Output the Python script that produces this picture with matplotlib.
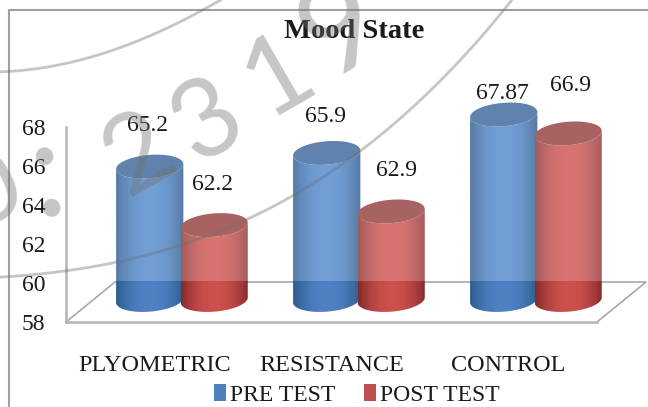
import numpy as np
import matplotlib
matplotlib.use('Agg')
import matplotlib.pyplot as plt
from matplotlib.patches import Patch, PathPatch, Polygon
from matplotlib.path import Path
from matplotlib.lines import Line2D

categories = ['PLYOMETRIC', 'RESISTANCE', 'CONTROL']
pre_test = [65.2, 65.9, 67.87]
post_test = [62.2, 62.9, 66.9]
series_names = ['PRE TEST', 'POST TEST']
yticks = [58, 60, 62, 64, 66, 68]

W, H = 648, 407
plt.rcParams['font.family'] = ['Liberation Serif', 'DejaVu Serif']

fig = plt.figure(figsize=(W / 100, H / 100), dpi=100)
ax = fig.add_axes([66 / W, 1 - 322 / H, 531 / W, 195 / H])
ax.patch.set_alpha(0)

# 3d look: bars sit part way back on the floor
depth_x, depth_y = 0.155, 0.77
floor_dx, floor_dy = 0.277, 2.05
base = 59.13
half_w = 0.19
ell_h = 0.6
ell_s = 0.13
off = 0.182


def shade(edge, mid, n=60):
    t = np.linspace(-1, 1, n)
    w = np.abs(t) ** 2.2
    edge, mid = np.array(edge) / 255, np.array(mid) / 255
    return (mid[None, :] * (1 - w[:, None]) + edge[None, :] * w[:, None])[None, :, :]


def cylinder(cx, value, upper, lower, topc):
    top = value + depth_y
    t = np.linspace(np.pi, 2 * np.pi, 50)
    bx = cx + half_w * np.cos(t)
    dy = ell_h * np.sin(t) + ell_s * np.cos(t)
    verts = list(zip(bx, top + dy)) + list(zip(bx[::-1], (base + dy)[::-1]))
    body = PathPatch(Path(verts + [verts[0]]), fc='none', ec='none', clip_on=False)
    ax.add_patch(body)
    floor_y = 58 + floor_dy
    box = (cx - half_w, cx + half_w)
    for c, y0, y1 in [(upper, floor_y, top + 1), (lower, base - 1, floor_y)]:
        im = ax.imshow(shade(*c), extent=(box[0], box[1], y0, y1), aspect='auto',
                       interpolation='bilinear', zorder=3)
        im.set_clip_box(fig.bbox)
        im.set_clip_path(body)
    t = np.linspace(0, 2 * np.pi, 80)
    ax.add_patch(Polygon(np.c_[cx + half_w * np.cos(t), top + ell_h * np.sin(t) + ell_s * np.cos(t)],
                         fc=topc, ec='none', zorder=3, clip_on=False))


blue = ([(86, 122, 164), (113, 159, 214)], [(44, 92, 142), (79, 129, 196)], '#5f83ad')
red = ([(160, 92, 92), (216, 116, 114)], [(132, 42, 42), (204, 80, 76)], '#a86262')

for i in range(len(categories)):
    cylinder(i + depth_x - off, pre_test[i], *blue)
    cylinder(i + depth_x + off, post_test[i], *red)

ax.set_xlim(-0.5, 2.5)
ax.set_ylim(58, 68)

# labels were hand placed in the original chart
pre_shift = [(-2, 41), (-1, 36), (-1, 21)]
post_shift = [(-2, 41), (5, 41), (2, 48)]
for i in range(len(categories)):
    for vals, sh, sign in [(pre_test, pre_shift, -1), (post_test, post_shift, 1)]:
        ax.annotate(str(vals[i]), (i + depth_x + sign * off, vals[i] + depth_y),
                    xytext=sh[i], textcoords='offset pixels', ha='center', va='center',
                    fontsize=17, color='#1a1a1a', zorder=5, annotation_clip=False)

# floor
g = '#a8a8a8'
ax.plot([-0.5, -0.5 + floor_dx, 2.5 + floor_dx, 2.5], [58, 58 + floor_dy, 58 + floor_dy, 58],
        color=g, lw=1.2, clip_on=False, zorder=2)

for s in ['top', 'right']:
    ax.spines[s].set_visible(False)
for s in ['left', 'bottom']:
    ax.spines[s].set_color('#b4b4b4')
    ax.spines[s].set_linewidth(1.8)
ax.set_yticks(yticks)
ax.set_xticks(range(len(categories)))
ax.set_xticklabels(categories)
ax.tick_params(axis='y', length=0, pad=15, labelsize=17, labelcolor='#1a1a1a')
ax.tick_params(axis='x', length=0, pad=24, labelsize=17.5, labelcolor='#1a1a1a')

fig.text(354 / W, 1 - 31 / H, 'Mood State', ha='center', va='center', fontsize=20.5,
         fontweight='bold', color='#1a1a1a')

handles = [Patch(fc='#4f81bd', ec='none'), Patch(fc='#c0504d', ec='none')]
fig.legend(handles, series_names, ncol=2, frameon=False, fontsize=17,
           loc='center left', bbox_to_anchor=(193 / W, 1 - 395 / H),
           handlelength=0.5, handleheight=0.7, handletextpad=0.18, columnspacing=1.2,
           labelcolor='#1a1a1a')

# outer frame and the stamp that lies over the scan
fig.add_artist(Line2D([9 / W, 9 / W, 1], [0, 1 - 10 / H, 1 - 10 / H], color='#a0a0a0', lw=1.5))
arc1 = np.array([(0, 72), (60, 64), (130, 45), (200, 10), (222, 0)], float)
arc2 = np.array([(0, 277), (115, 263), (245, 220), (360, 150), (440, 83), (503, 10), (512, 0)], float)
for arc in (arc1, arc2):
    xs = np.linspace(arc[0, 0], arc[-1, 0], 100)
    ys = np.polyval(np.polyfit(arc[:, 0], arc[:, 1], 3), xs)
    fig.add_artist(Line2D(xs / W, 1 - ys / H, color='#707070', alpha=0.4, lw=2,
                          solid_capstyle='round'))
stamp = [('0', -12, 190, 78, 30), (':', 47, 175, 100, 8), ('2', 140, 155, 78, 30),
         ('3', 208, 122, 78, 30), ('1', 278, 76, 78, 30), ('9', 342, 30, 92, 30)]
for ch, px, py, size, rot in stamp:
    fig.text(px / W, 1 - py / H, ch, rotation=rot, rotation_mode='anchor', ha='center', va='center',
             fontsize=size, family='Lato', color='#707070', alpha=0.4, zorder=6)

fig.savefig('out.png', dpi=100)
